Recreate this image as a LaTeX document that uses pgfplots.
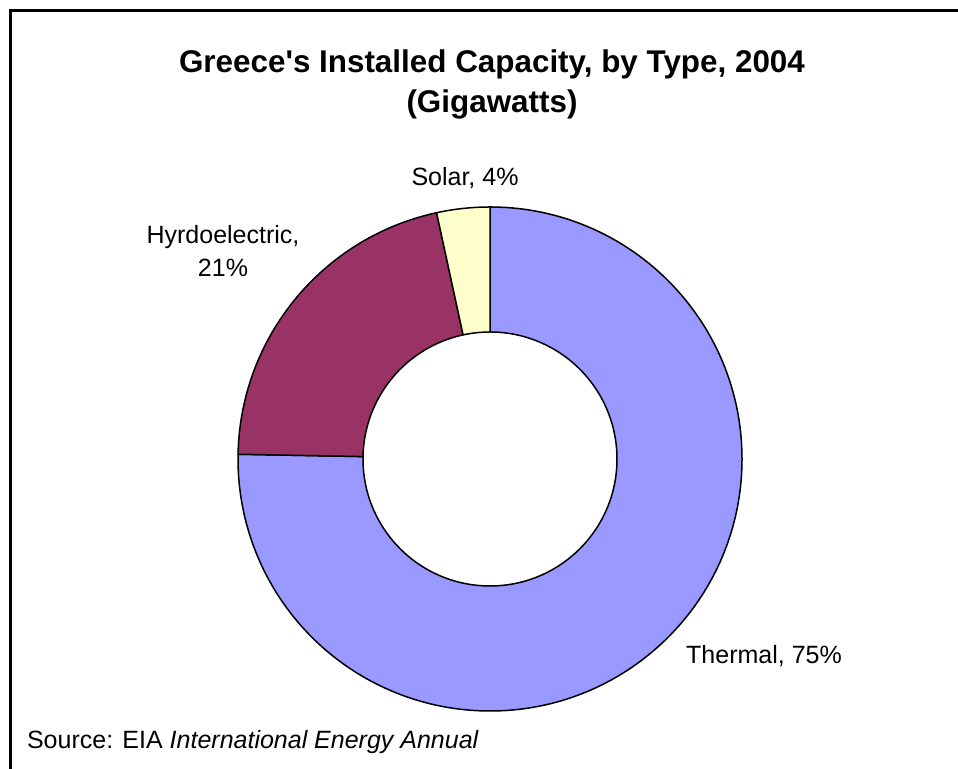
\documentclass[border=0pt]{standalone}
\usepackage{pgfplots}
\usepackage{pgfplotstable}
\pgfplotsset{compat=1.18}
\usepackage{fontspec}
\setmainfont{Liberation Sans}
\definecolor{thermal}{HTML}{9999FF}
\definecolor{hydro}{HTML}{993366}
\definecolor{solar}{HTML}{FFFFCC}
\pgfplotstableread[col sep=comma]{
name,value
Thermal,75.3
Hydroelectric,21.3
Solar,3.4
}\capacity
\newcommand{\sq}{{\XeTeXglyph\XeTeXcharglyph"27\relax}}
\begin{document}
\begin{tikzpicture}
\begin{axis}[
  scale only axis, width=479pt, height=384.5pt,
  xmin=0, xmax=958, ymin=0, ymax=769,
  hide axis, clip=false,
]
\pgfplotstablegetelem{0}{value}\of\capacity \let\vT\pgfplotsretval
\pgfplotstablegetelem{1}{value}\of\capacity \let\vH\pgfplotsretval
\pgfplotstablegetelem{2}{value}\of\capacity \let\vS\pgfplotsretval
\pgfmathsetmacro{\aA}{90}
\pgfmathsetmacro{\aB}{90-3.6*\vT}
\pgfmathsetmacro{\aC}{\aB-3.6*\vH}
\pgfmathsetmacro{\aD}{\aC-3.6*\vS}
\def\R{126pt}
\def\r{63.5pt}
\def\RR{62.5pt}
% thermal
\filldraw[fill=thermal, draw=black, line width=0.75pt, line join=round]
  (axis cs:490,310) ++(\aA:\R) arc[start angle=\aA, end angle=\aB, radius=\R]
  -- ++(\aB+180:\RR) arc[start angle=\aB, end angle=\aA, radius=\r] -- cycle;
% hydro
\filldraw[fill=hydro, draw=black, line width=0.75pt, line join=round]
  (axis cs:490,310) ++(\aB:\R) arc[start angle=\aB, end angle=\aC, radius=\R]
  -- ++(\aC+180:\RR) arc[start angle=\aC, end angle=\aB, radius=\r] -- cycle;
% solar
\filldraw[fill=solar, draw=black, line width=0.75pt, line join=round]
  (axis cs:490,310) ++(\aC:\R) arc[start angle=\aC, end angle=\aD, radius=\R]
  -- ++(\aD+180:\RR) arc[start angle=\aD, end angle=\aC, radius=\r] -- cycle;
% frame
\draw[line width=1.5pt] (axis cs:10,0) -- (axis cs:10,758.5) -- (axis cs:958,758.5);
% title
\node[font=\fontsize{15.7}{20}\selectfont\bfseries, align=center] at (axis cs:492,685)
  {Greece\sq s Installed Capacity, by Type, 2004\\(Gigawatts)};
% labels
\node[font=\fontsize{12.5}{16.5}\selectfont] at (axis cs:465,591) {Solar, 4\%};
\node[font=\fontsize{12.5}{16.5}\selectfont, align=center] at (axis cs:223,518) {Hyrdoelectric,\\21\%};
\node[font=\fontsize{12.5}{16.5}\selectfont] at (axis cs:764,113) {Thermal, 75\%};
\node[font=\fontsize{12.5}{16.5}\selectfont, anchor=west] at (axis cs:20,27) {Source: EIA \textit{International Energy Annual}};
\end{axis}
\pgfresetboundingbox
\path[use as bounding box] (current axis.south west) rectangle (current axis.north east);
\end{tikzpicture}
\end{document}
